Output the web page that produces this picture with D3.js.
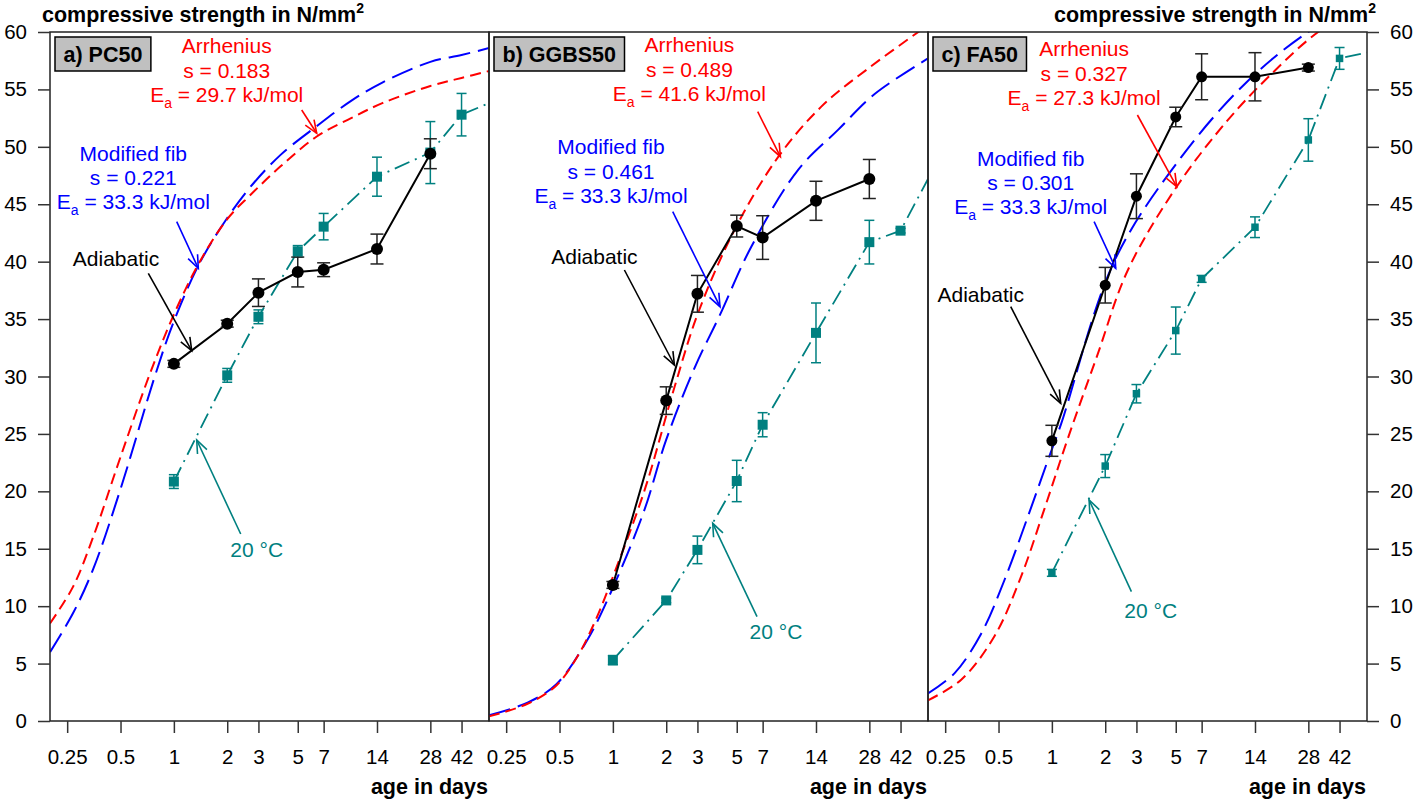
<!DOCTYPE html>
<html>
<head>
<meta charset="utf-8">
<script src="https://cdn.jsdelivr.net/npm/d3@7"></script>
<style>
  body { margin: 0; background: #fff; }
  text { font-family: "Liberation Sans", Arial, sans-serif; }
</style>
</head>
<body>
<svg id="chart" width="1417" height="804"></svg>
<script>
/******************************* DATA ***********************************/
const ageTicks = [0.25, 0.5, 1, 2, 3, 5, 7, 14, 28, 42];
const strengthTicks = [0, 5, 10, 15, 20, 25, 30, 35, 40, 45, 50, 55, 60];
const panelNames = ['a) PC50', 'b) GGBS50', 'c) FA50'];

// test ages (days)
const ages = [1, 2, 3, 5, 7, 14, 28];
const ages20 = [1, 2, 3, 5, 7, 14, 28, 42];

// adiabatic cured specimens
const adiaPC50 = [31.1, 34.6, 37.3, 39.1, 39.3, 41.1, 49.4];
const adiaPC50Err = [0.3, 0.3, 1.2, 1.3, 0.6, 1.3, 1.3];
const adiaGGBS50 = [11.85, 27.9, 37.2, 43.1, 42.1, 45.3, 47.2];
const adiaGGBS50Err = [0.3, 1.2, 1.6, 0.95, 1.9, 1.7, 1.7];
const adiaFA50 = [24.4, 37.95, 45.7, 52.6, 56.1, 56.1, 56.9];
const adiaFA50Err = [1.35, 1.55, 1.95, 0.85, 2.0, 2.1, 0.3];

// 20 °C cured specimens (edge = where the line leaves the panel at 60 d)
const ref20PC50 = [20.85, 30.1, 35.2, 40.9, 43.05, 47.4, 49.5, 52.8];
const ref20PC50Err = [0.6, 0.6, 0.6, 0.5, 1.15, 1.7, 2.7, 1.85];
const ref20GGBS50 = [5.3, 10.5, 14.9, 20.9, 25.8, 33.8, 41.7, 42.7];
const ref20GGBS50Err = [0.4, 0.2, 1.2, 1.8, 1.05, 2.6, 1.9, 0.2];
const ref20FA50 = [12.9, 22.2, 28.5, 34.0, 38.5, 43.0, 50.6, 57.7];
const ref20FA50Err = [0.3, 1.0, 0.8, 2.05, 0.3, 0.9, 1.85, 0.95];
const ref20Edge = [53.8, 47.2, 58.2];

// predicted curves
const arrhPC50T = [0.2, 0.27, 0.35, 0.5, 0.735, 1, 1.4, 2, 2.7, 4, 6.4, 10, 15, 28, 42, 60];
const arrhPC50 = [8.5, 11.7, 16.0, 23.0, 30.3, 35.4, 40.0, 43.7, 45.8, 48.3, 50.9, 52.5, 53.8, 55.3, 56.0, 56.6];
const fibPC50T = [0.2, 0.27, 0.35, 0.5, 0.78, 1, 1.4, 2, 2.7, 4, 6.4, 10, 15, 28, 42, 60];
const fibPC50 = [6.0, 9.4, 13.2, 20.2, 30.0, 34.8, 39.9, 43.8, 46.5, 49.3, 51.8, 54.0, 55.6, 57.4, 58.0, 58.6];

const arrhGGBS50T = [0.2, 0.33, 0.48, 0.63, 0.8, 1.02, 1.51, 2.23, 3.02, 4.87, 8.55, 15, 28, 60];
const arrhGGBS50 = [0.4, 1.5, 3.1, 5.6, 8.8, 12.9, 20.1, 29.1, 35.5, 42.8, 49.1, 53.5, 56.9, 60.6];
const fibGGBS50T = [0.2, 0.33, 0.48, 0.72, 1.0, 1.5, 2.0, 2.9, 4.0, 6.04, 11.1, 18.7, 30, 60];
const fibGGBS50 = [0.5, 1.6, 3.2, 7.1, 11.6, 18.3, 24.5, 30.8, 35.3, 41.3, 48.0, 51.5, 54.6, 57.7];

const arrhFA50T = [0.2, 0.308, 0.475, 0.671, 0.909, 1.23, 1.8, 2.69, 5.15, 9.8, 16.7, 31.8, 60];
const arrhFA50 = [1.8, 3.6, 7.4, 12.6, 18.5, 24.6, 31.8, 39.3, 46.7, 52.3, 56.1, 60.0, 62.5];
const fibFA50T = [0.2, 0.282, 0.399, 0.541, 0.732, 0.949, 1.129, 2.26, 5.37, 12.3, 25.6, 60];
const fibFA50 = [2.4, 4.15, 7.6, 12.3, 17.8, 22.7, 25.9, 40.1, 49.1, 55.5, 59.6, 63.0];

const arrhS = ['0.183', '0.489', '0.327'];
const arrhEa = ['29.7', '41.6', '27.3'];
const fibS = ['0.221', '0.461', '0.301'];
const fibEa = ['33.3', '33.3', '33.3'];

/***************************** LAYOUT ***********************************/
const svg = d3.select('#chart');
const W = 439, plotTop = 32, plotBottom = 721, left0 = 50;
const RED = '#ff0000', BLUE = '#0000ff', TEAL = '#008080';
const NOTE_FS = 21, TICK_FS = 20.5, BOLD_FS = 21.5;

const y = d3.scaleLinear().domain([0, 60]).range([plotBottom, plotTop]);

// annotation anchors, px relative to panel left edge
const notes = [
  { arrh: [176.7, 46], arrhArrow: [251.7, 110, 266.7, 133.3],
    fib: [83.3, 153.3], fibArrow: [126.7, 221.7, 148.3, 268.3],
    adia: [66, 258.5], adiaArrow: [98.3, 273.3, 141.7, 350.7],
    t20: [206.7, 549.3], t20Arrow: [190.7, 534, 146.7, 440], sq: 10, r: 6 },
  { arrh: [200.4, 45], arrhArrow: [268.7, 111.7, 291.4, 156.7],
    fib: [122, 146.7], fibArrow: [183.7, 211.7, 231, 306.7],
    adia: [105.4, 256.7], adiaArrow: [135.4, 270, 185.4, 365],
    t20: [287, 631.7], t20Arrow: [268, 616.7, 223.7, 523.3], sq: 10, r: 6 },
  { arrh: [156.1, 49], arrhArrow: [209.4, 115, 248.7, 186.7],
    fib: [102.7, 158.3], fibArrow: [166.1, 221.7, 187.7, 268.3],
    adia: [52.7, 295], adiaArrow: [82.7, 306.7, 132.7, 403.3],
    t20: [222.7, 610.7], t20Arrow: [203.4, 591.7, 161.1, 500], sq: 7.5, r: 5.5 }
];

const panels = [
  { adia: adiaPC50, adiaErr: adiaPC50Err, ref: ref20PC50, refErr: ref20PC50Err,
    arrhT: arrhPC50T, arrh: arrhPC50, fibT: fibPC50T, fib: fibPC50 },
  { adia: adiaGGBS50, adiaErr: adiaGGBS50Err, ref: ref20GGBS50, refErr: ref20GGBS50Err,
    arrhT: arrhGGBS50T, arrh: arrhGGBS50, fibT: fibGGBS50T, fib: fibGGBS50 },
  { adia: adiaFA50, adiaErr: adiaFA50Err, ref: ref20FA50, refErr: ref20FA50Err,
    arrhT: arrhFA50T, arrh: arrhFA50, fibT: fibFA50T, fib: fibFA50 }
];

function arrow(g, a, color) {
  let [x1, y1, x2, y2] = a;
  let ang = Math.atan2(y2 - y1, x2 - x1), len = 14, spread = 0.38;
  g.append('line').attr('x1', x1).attr('y1', y1).attr('x2', x2).attr('y2', y2)
    .attr('stroke', color).attr('stroke-width', 1.6);
  g.append('path')
    .attr('d', `M${x2 - len * Math.cos(ang - spread)},${y2 - len * Math.sin(ang - spread)}` +
      `L${x2},${y2}L${x2 - len * Math.cos(ang + spread)},${y2 - len * Math.sin(ang + spread)}`)
    .attr('fill', 'none').attr('stroke', color).attr('stroke-width', 1.6);
}

function threeLines(g, x, y0, color, title, s, ea) {
  let t = g.append('g').attr('fill', color).attr('font-size', NOTE_FS).attr('text-anchor', 'middle');
  t.append('text').attr('x', x).attr('y', y0).attr('dy', '0.35em').text(title);
  t.append('text').attr('x', x).attr('y', y0 + 24.5).attr('dy', '0.35em').text('s = ' + s);
  let e = t.append('text').attr('x', x).attr('y', y0 + 48.5).attr('dy', '0.35em');
  e.append('tspan').text('E');
  e.append('tspan').attr('font-size', 14).attr('dy', 6).text('a');
  e.append('tspan').attr('dy', -6).text(' = ' + ea + ' kJ/mol');
}

panels.forEach((p, i) => {
  let x0 = left0 + i * W;
  let x = d3.scaleLog().domain([0.2, 60]).range([x0, x0 + W]);
  let n = notes[i];
  let g = svg.append('g');

  g.append('clipPath').attr('id', 'clip' + i).append('rect')
    .attr('x', x0).attr('y', plotTop).attr('width', W).attr('height', plotBottom - plotTop);
  let plot = g.append('g').attr('clip-path', `url(#clip${i})`);

  let line = d3.line().x(d => x(d[0])).y(d => y(d[1])).curve(d3.curveCatmullRom.alpha(0.5));

  // model curves
  plot.append('path').datum(d3.zip(p.fibT, p.fib)).attr('d', line)
    .attr('fill', 'none').attr('stroke', BLUE).attr('stroke-width', 2).attr('stroke-dasharray', '22,8');
  plot.append('path').datum(d3.zip(p.arrhT, p.arrh)).attr('d', line)
    .attr('fill', 'none').attr('stroke', RED).attr('stroke-width', 2).attr('stroke-dasharray', '11,6');

  // 20 °C series
  let straight = d3.line().x(d => x(d[0])).y(d => y(d[1]));
  let refLine = d3.zip(ages20, p.ref).concat([[60, ref20Edge[i]]]);
  plot.append('path').datum(refLine).attr('d', straight)
    .attr('fill', 'none').attr('stroke', TEAL).attr('stroke-width', 1.8).attr('stroke-dasharray', '16,6,2,6');

  // adiabatic series
  plot.append('path').datum(d3.zip(ages, p.adia)).attr('d', straight)
    .attr('fill', 'none').attr('stroke', '#000').attr('stroke-width', 2);

  // error bars
  function errBars(ts, vs, es, color, cap) {
    ts.forEach((t, k) => {
      let cx = x(t), y1 = y(vs[k] + es[k]), y2 = y(vs[k] - es[k]);
      let eb = plot.append('g').attr('stroke', color).attr('stroke-width', 1.5);
      eb.append('line').attr('x1', cx).attr('x2', cx).attr('y1', y1).attr('y2', y2);
      eb.append('line').attr('x1', cx - cap).attr('x2', cx + cap).attr('y1', y1).attr('y2', y1);
      eb.append('line').attr('x1', cx - cap).attr('x2', cx + cap).attr('y1', y2).attr('y2', y2);
    });
  }
  errBars(ages20, p.ref, p.refErr, TEAL, 5);
  errBars(ages, p.adia, p.adiaErr, '#222', 6.5);

  // markers
  plot.selectAll('.sq').data(d3.zip(ages20, p.ref)).enter().append('rect')
    .attr('x', d => x(d[0]) - n.sq / 2).attr('y', d => y(d[1]) - n.sq / 2)
    .attr('width', n.sq).attr('height', n.sq).attr('fill', TEAL);
  plot.selectAll('.dot').data(d3.zip(ages, p.adia)).enter().append('circle')
    .attr('cx', d => x(d[0])).attr('cy', d => y(d[1])).attr('r', n.r).attr('fill', '#000');

  // frame
  g.append('rect').attr('x', x0).attr('y', plotTop).attr('width', W).attr('height', plotBottom - plotTop)
    .attr('fill', 'none').attr('stroke', '#222').attr('stroke-width', 1.5);

  // x axis
  let xAxis = g.append('g').attr('transform', `translate(0,${plotBottom})`)
    .call(d3.axisBottom(x).tickValues(ageTicks).tickFormat(d => d).tickSize(12).tickPadding(16).tickSizeOuter(0));
  xAxis.select('.domain').remove();
  xAxis.selectAll('line').attr('stroke', '#333').attr('stroke-width', 1.5);
  xAxis.selectAll('text').attr('font-size', TICK_FS).attr('fill', '#000')
    .style('font-family', '"Liberation Sans", Arial, sans-serif');

  g.append('text').attr('x', x0 + W - 1).attr('y', 794).attr('text-anchor', 'end')
    .attr('font-size', BOLD_FS).attr('font-weight', 'bold').text('age in days');

  // panel label
  let lab = g.append('g');
  let lt = lab.append('text').attr('x', x0 + 13.5).attr('y', 54).attr('dy', '0.35em')
    .attr('font-size', BOLD_FS).attr('font-weight', 'bold').text(panelNames[i]);
  let tw = lt.node().getComputedTextLength();
  lab.insert('rect', 'text').attr('x', x0 + 5).attr('y', 37).attr('width', tw + 17).attr('height', 34)
    .attr('fill', '#c0c0c0').attr('stroke', '#000').attr('stroke-width', 1.5);

  // annotations
  threeLines(g, x0 + n.arrh[0], n.arrh[1], RED, 'Arrhenius', arrhS[i], arrhEa[i]);
  arrow(g, [x0 + n.arrhArrow[0], n.arrhArrow[1], x0 + n.arrhArrow[2], n.arrhArrow[3]], RED);
  threeLines(g, x0 + n.fib[0], n.fib[1], BLUE, 'Modified fib', fibS[i], fibEa[i]);
  arrow(g, [x0 + n.fibArrow[0], n.fibArrow[1], x0 + n.fibArrow[2], n.fibArrow[3]], BLUE);
  g.append('text').attr('x', x0 + n.adia[0]).attr('y', n.adia[1]).attr('dy', '0.35em')
    .attr('text-anchor', 'middle').attr('font-size', NOTE_FS).text('Adiabatic');
  arrow(g, [x0 + n.adiaArrow[0], n.adiaArrow[1], x0 + n.adiaArrow[2], n.adiaArrow[3]], '#000');
  g.append('text').attr('x', x0 + n.t20[0]).attr('y', n.t20[1]).attr('dy', '0.35em')
    .attr('text-anchor', 'middle').attr('font-size', NOTE_FS).attr('fill', TEAL).text('20 °C');
  arrow(g, [x0 + n.t20Arrow[0], n.t20Arrow[1], x0 + n.t20Arrow[2], n.t20Arrow[3]], TEAL);
});

/***************************** Y AXES ***********************************/
function styleAxis(ax) {
  ax.select('.domain').remove();
  ax.selectAll('line').attr('stroke', '#333').attr('stroke-width', 1.5);
  ax.selectAll('text').attr('font-size', TICK_FS).attr('fill', '#000')
    .style('font-family', '"Liberation Sans", Arial, sans-serif');
}
styleAxis(svg.append('g').attr('transform', `translate(${left0},0)`)
  .call(d3.axisLeft(y).tickValues(strengthTicks).tickSize(12).tickPadding(11)));
styleAxis(svg.append('g').attr('transform', `translate(${left0 + 3 * W},0)`)
  .call(d3.axisRight(y).tickValues(strengthTicks).tickSize(12).tickPadding(11)));

let yt1 = svg.append('text').attr('x', 42).attr('y', 22).attr('font-size', BOLD_FS).attr('font-weight', 'bold');
yt1.append('tspan').text('compressive strength in N/mm');
yt1.append('tspan').attr('font-size', 14).attr('dy', -9).text('2');
let yt2 = svg.append('text').attr('x', 1376).attr('y', 22).attr('text-anchor', 'end')
  .attr('font-size', BOLD_FS).attr('font-weight', 'bold');
yt2.append('tspan').text('compressive strength in N/mm');
yt2.append('tspan').attr('font-size', 14).attr('dy', -9).text('2');
</script>
</body>
</html>
